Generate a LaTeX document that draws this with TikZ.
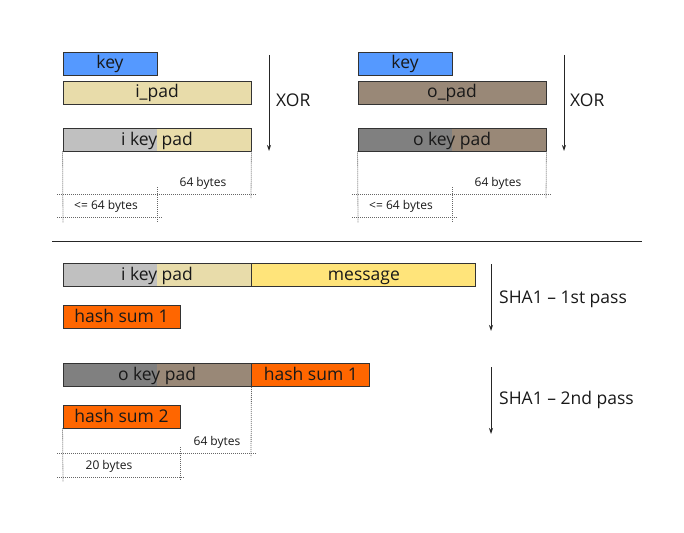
\documentclass[tikz,border=0pt]{standalone}
\usepackage{fontspec}
\setmainfont{Open Sans}
\usetikzlibrary{arrows.meta}
\definecolor{keyblue}{HTML}{5599FF}
\definecolor{beige}{HTML}{E8DCAA}
\definecolor{lgrey}{HTML}{C0C0C0}
\definecolor{brownpad}{HTML}{998877}
\definecolor{dgrey}{HTML}{808080}
\definecolor{msgyellow}{HTML}{FFE47A}
\definecolor{hashorange}{HTML}{FF6600}
\tikzset{
  box/.style={draw=black!80, line width=0.9pt, inner sep=0pt, minimum height=23pt,
    text height=14.5pt, text depth=3.5pt, font=\fontsize{17.5}{17.5}\selectfont, text=black!90},
  splitbox/.style 2 args={box, fill=#2, path picture={
    \fill[#1] (path picture bounding box.north west) rectangle
      ([xshift=94pt]path picture bounding box.south west);}},
  flow/.style={draw=black!85, line width=0.9pt, -{Stealth[length=6pt,width=4pt]}},
  dotline/.style={draw=black!60, line width=0.8pt, dash pattern=on 1pt off 1pt},
  big/.style={font=\fontsize{17.5}{17.5}\selectfont, text=black!90, inner sep=0pt, anchor=west},
  small/.style={font=\fontsize{12}{12}\selectfont, text=black!90, inner sep=0pt},
}
\begin{document}
\begin{tikzpicture}[x=1pt,y=-1pt]
\useasboundingbox (0,0) rectangle (684,532);

% ---------- top left ----------
\node[box, fill=keyblue, minimum width=94pt] (key1) at (110,63.5) {key};
\node[box, fill=beige, minimum width=188pt] (ipad) at (157,92.5) {i\_pad};
\node[splitbox={lgrey}{beige}, minimum width=188pt] (ikp1) at (157,139.5) {i key pad};
\coordinate (xa1s) at (269,55);
\coordinate (xa1e) at (269,151);
\draw[flow] (xa1s) -- (xa1e);
\node[big] (xor1) at (276,100) {XOR};

\coordinate (d1a) at (63,223);
\coordinate (d1b) at (251,198);
\coordinate (d1c) at (57,194);
\coordinate (d1d) at (257,194);
\coordinate (d1e) at (157,187);
\coordinate (d1f) at (157,223);
\coordinate (d1g) at (57,217);
\coordinate (d1h) at (162,217);
\draw[dotline] (ikp1.south west) -- (d1a);
\draw[dotline] (ikp1.south east) -- (d1b);
\draw[dotline] (d1c) -- (d1d);
\draw[dotline] (d1e) -- (d1f);
\draw[dotline] (d1g) -- (d1h);
\node[small] (l64a) at (203,183) {64 bytes};
\node[small] (l64b) at (106,206) {<= 64 bytes};

% ---------- top right ----------
\node[box, fill=keyblue, minimum width=94pt] (key2) at (405,63.5) {key};
\node[box, fill=brownpad, minimum width=188pt] (opad) at (452,92.5) {o\_pad};
\node[splitbox={dgrey}{brownpad}, minimum width=188pt] (okp1) at (452,139.5) {o key pad};
\coordinate (xa2s) at (564,55);
\coordinate (xa2e) at (564,151);
\draw[flow] (xa2s) -- (xa2e);
\node[big] (xor2) at (570,100) {XOR};

\coordinate (d2a) at (358,223);
\coordinate (d2b) at (546,198);
\coordinate (d2c) at (352,194);
\coordinate (d2d) at (552,194);
\coordinate (d2e) at (452,187);
\coordinate (d2f) at (452,223);
\coordinate (d2g) at (352,217);
\coordinate (d2h) at (457,217);
\draw[dotline] (okp1.south west) -- (d2a);
\draw[dotline] (okp1.south east) -- (d2b);
\draw[dotline] (d2c) -- (d2d);
\draw[dotline] (d2e) -- (d2f);
\draw[dotline] (d2g) -- (d2h);
\node[small] (l64c) at (498,183) {64 bytes};
\node[small] (l64d) at (401,206) {<= 64 bytes};

% ---------- divider ----------
\coordinate (divl) at (52,241);
\coordinate (divr) at (642,241);
\draw[line width=0.9pt, black!85] (divl) -- (divr);

% ---------- bottom ----------
\node[splitbox={lgrey}{beige}, minimum width=188pt] (ikp2) at (157,274.5) {i key pad};
\node[box, fill=msgyellow, minimum width=224pt, anchor=west] (msg) at (ikp2.east) {message};
\node[box, fill=hashorange, minimum width=117pt] (hs1) at (121.5,316.5) {hash sum 1};
\coordinate (sa1s) at (491,264);
\coordinate (sa1e) at (491,331);
\draw[flow] (sa1s) -- (sa1e);
\node[big] (sha1) at (499,299) {SHA1 – 1st pass};

\node[splitbox={dgrey}{brownpad}, minimum width=188pt] (okp2) at (157,375) {o key pad};
\node[box, fill=hashorange, minimum width=118pt, anchor=west] (hs1b) at (okp2.east) {hash sum 1};
\node[box, fill=hashorange, minimum width=117pt] (hs2) at (121.5,416.5) {hash sum 2};
\coordinate (sa2s) at (491,367);
\coordinate (sa2e) at (491,434);
\draw[flow] (sa2s) -- (sa2e);
\node[big] (sha2) at (499,400) {SHA1 – 2nd pass};

\coordinate (d3a) at (251,457);
\coordinate (d3c) at (57,453);
\coordinate (d3d) at (257,453);
\coordinate (d3e) at (63,482);
\coordinate (d3f) at (180,447);
\coordinate (d3g) at (180,480);
\coordinate (d3h) at (57,477);
\coordinate (d3i) at (185,477);
\draw[dotline] (okp2.south east) -- (d3a);
\draw[dotline] (d3c) -- (d3d);
\draw[dotline] (hs2.south west) -- (d3e);
\draw[dotline] (d3f) -- (d3g);
\draw[dotline] (d3h) -- (d3i);
\node[small] (l64e) at (217,442) {64 bytes};
\node[small] (l20) at (109,466) {20 bytes};
\end{tikzpicture}
\end{document}
